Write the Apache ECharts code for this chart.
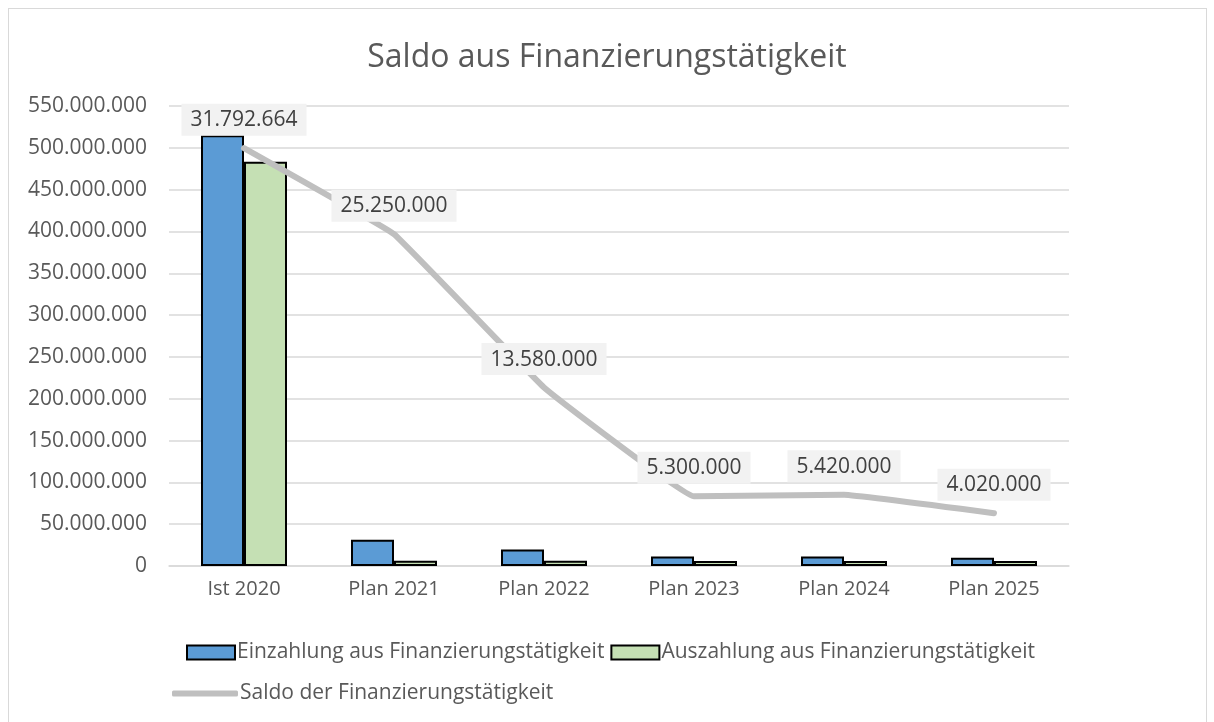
<!DOCTYPE html>
<html>
<head>
<meta charset="utf-8">
<script src="https://cdn.jsdelivr.net/npm/echarts@6/dist/echarts.min.js"></script>
<style>
  html, body { margin: 0; padding: 0; background: #fff; }
  #frame { position: absolute; left: 8px; top: 8px; width: 1199px; height: 730px; border: 1px solid #d9d9d9; box-sizing: border-box; }
  #chart { position: absolute; left: 0; top: 0; width: 1214px; height: 722px; }
</style>
</head>
<body>
<div id="frame"></div>
<div id="chart"></div>
<script>
// Daten
var categories = ['Ist 2020', 'Plan 2021', 'Plan 2022', 'Plan 2023', 'Plan 2024', 'Plan 2025'];
var einzahlung = [515000000, 31500000, 19800000, 11300000, 11500000, 10000000];
var auszahlung = [483207336, 6250000, 6220000, 6000000, 6080000, 5980000];
var saldo = [31792664, 25250000, 13580000, 5300000, 5420000, 4020000];

var fmt = function (v) {
    return Math.round(v).toString().replace(/\B(?=(\d{3})+(?!\d))/g, '.');
};
var txt = '#595959';
var font = '"Open Sans", "Noto Sans", sans-serif';

var chart = echarts.init(document.getElementById('chart'));
chart.setOption({
    animation: false,
    textStyle: { fontFamily: font },
    title: {
        text: 'Saldo aus Finanzierungstätigkeit',
        left: 'center',
        top: 37,
        textStyle: { fontSize: 32, fontWeight: 'normal', color: txt, fontFamily: font }
    },
    grid: { left: 169, right: 145, top: 106, bottom: 156 },
    legend: [{
        data: [
            { name: 'Einzahlung aus Finanzierungstätigkeit', icon: 'rect' },
            { name: 'Auszahlung aus Finanzierungstätigkeit', icon: 'rect' }
        ],
        left: 181,
        top: 637,
        itemWidth: 48,
        itemHeight: 14,
        itemGap: 6,
        textStyle: { fontSize: 21, color: txt, padding: [0, 0, 0, -3] }
    }, {
        data: [{ name: 'Saldo der Finanzierungstätigkeit', icon: 'roundRect' }],
        left: 167,
        top: 678,
        itemWidth: 66,
        itemHeight: 6,
        textStyle: { fontSize: 21, color: txt, padding: [0, 0, 0, -3] }
    }],
    xAxis: {
        type: 'category',
        data: categories,
        axisLine: { lineStyle: { color: '#d9d9d9', width: 1.5 } },
        axisTick: { length: 7, lineStyle: { color: '#d9d9d9', width: 1.5 } },
        axisLabel: { fontSize: 20, color: txt, margin: 13 }
    },
    yAxis: [{
        type: 'value',
        min: 0,
        max: 550000000,
        interval: 50000000,
        axisLine: { show: false },
        axisTick: { show: false },
        splitLine: { lineStyle: { color: '#d9d9d9', width: 1.5 } },
        axisLabel: { fontSize: 21, color: txt, margin: 22, formatter: fmt }
    }, {
        type: 'value',
        min: 0,
        max: 35000000,
        show: false,
        splitLine: { show: false }
    }],
    series: [{
        name: 'Einzahlung aus Finanzierungstätigkeit',
        type: 'bar',
        data: einzahlung,
        barWidth: 43,
        barGap: '0%',
        itemStyle: { color: '#5b9bd5', borderColor: '#000', borderWidth: 2 }
    }, {
        name: 'Auszahlung aus Finanzierungstätigkeit',
        type: 'bar',
        data: auszahlung,
        barWidth: 43,
        barGap: '0%',
        itemStyle: { color: '#c5e0b4', borderColor: '#000', borderWidth: 2 }
    }, {
        name: 'Saldo der Finanzierungstätigkeit',
        type: 'line',
        yAxisIndex: 1,
        data: saldo,
        smooth: 0.06,
        symbol: 'circle',
        symbolSize: 1,
        z: 5,
        lineStyle: { color: '#bfbfbf', width: 6, cap: 'round', join: 'round' },
        itemStyle: { color: '#bfbfbf' },
        label: {
            show: true,
            position: 'top',
            distance: 12,
            formatter: function (p) { return fmt(p.value); },
            fontSize: 21,
            color: '#404040',
            backgroundColor: '#f2f2f2',
            padding: [6, 9, 5, 9]
        }
    }]
});
</script>
</body>
</html>
